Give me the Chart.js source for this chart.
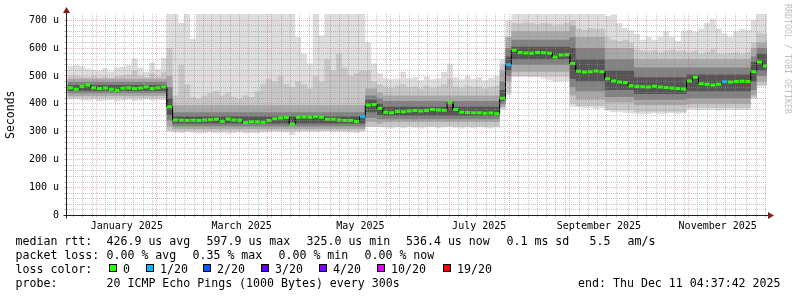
<!DOCTYPE html>
<html>
<head>
<meta charset="utf-8">
<title>SmokePing - last 360 days</title>
<script src="https://cdn.jsdelivr.net/npm/chart.js@4.4.1/dist/chart.umd.min.js"></script>
<style>
  html, body { margin: 0; padding: 0; background: #ffffff; }
  canvas { display: block; }
</style>
</head>
<body>
<canvas id="smokeChart" width="797" height="297"></canvas>
<script>
// x values are days since Jan 1 2025; one sample every 3 days starting 15 days before
const sampleStart = -15;
const sampleStep = 3;

// median rtt per sample (us)
const medianRtt = [
    458, 452, 462, 468, 458, 455, 457, 452, 449, 456, 458, 455, 457, 460, 455, 458, 460, 390,
    342, 341, 340, 341, 340, 342, 343, 345, 338, 346, 342, 341, 333, 336, 336, 334, 340, 347,
    349, 351, 328, 352, 353, 352, 355, 352, 345, 345, 342, 340, 340, 337, 355,
    396, 398, 384, 370, 368, 373, 372, 374, 376, 374, 376, 380, 378, 377, 405, 380, 370, 369,
    368, 368, 366, 367, 365, 420, 540,
    592, 584, 582, 581, 584, 583, 581, 568, 575, 576, 545,
    517, 514, 515, 518, 515, 490, 482, 478, 477, 465,
    462, 461, 460, 463, 460, 459, 457, 455, 453,
    482, 495, 472, 470, 468, 470, 479, 478, 480, 481, 480, 515, 550, 536
];

// lost pings (of 20) per sample
const lossCount = [
    0, 0, 0, 0, 0, 0, 0, 0, 0, 0, 0, 0, 0, 0, 0, 0, 0, 0, 0, 0,
    0, 0, 0, 0, 0, 0, 0, 0, 0, 0, 0, 0, 0, 0, 0, 0, 0, 0, 0, 0,
    0, 0, 0, 0, 0, 0, 0, 0, 0, 0, 1, 0, 0, 0, 0, 0, 0, 0, 0, 0,
    0, 0, 0, 0, 0, 0, 0, 0, 0, 0, 0, 0, 0, 0, 0, 1, 0, 0, 0, 0,
    0, 0, 0, 0, 0, 0, 0, 0, 0, 0, 0, 0, 0, 0, 0, 0, 0, 0, 0, 0,
    0, 0, 0, 0, 0, 0, 0, 0, 0, 0, 0, 0, 1, 0, 0, 0, 0, 0, 0, 0
];

// slowest ping per sample (us), values above the top are clipped
const pingMax = [
    536, 540, 535, 526, 522, 520, 528, 516, 530, 532, 540, 562, 530, 515, 548, 524, 565, 730,
    730, 690, 730, 632, 730, 730, 730, 730, 730, 730, 730, 730, 730, 730, 730, 730, 730, 730,
    730, 730, 730, 640, 580, 545, 730, 645, 730, 730, 730, 730, 730, 730, 730,
    620, 545, 510, 492, 488, 490, 515, 492, 495, 485, 498, 488, 492, 514, 545, 495, 488, 500,
    490, 495, 485, 492, 500, 560, 700,
    730, 730, 730, 730, 730, 730, 730, 730, 730, 730, 730,
    730, 730, 730, 730, 730, 715, 720, 690, 672, 664,
    650, 630, 640, 630, 640, 660, 640, 625, 660,
    665, 658, 670, 690, 705, 670, 652, 640, 660, 668, 665, 700, 730, 730
];

// fastest ping per sample (us)
const pingMin = [
    415, 418, 414, 412, 416, 410, 412, 414, 409, 412, 415, 410, 413, 416, 412, 414, 413, 300,
    298, 296, 300, 297, 294, 296, 298, 295, 297, 293, 296, 298, 294, 296, 295, 297, 300, 302,
    300, 298, 288, 300, 305, 302, 300, 303, 305, 300, 302, 300, 298, 296, 302,
    320, 318, 316, 314, 312, 315, 313, 316, 314, 312, 315, 317, 313, 315, 318, 314, 312, 315,
    313, 316, 314, 312, 315, 380, 430,
    505, 500, 500, 495, 497, 492, 485, 480, 480, 482, 390,
    388, 384, 386, 382, 385, 375, 370, 372, 368, 366,
    365, 362, 364, 366, 363, 365, 367, 364, 366,
    380, 378, 377, 379, 378, 376, 378, 379, 377, 378, 378, 420, 462, 465
];

// 2nd slowest ping band top per sample (us)
const band2Hi = [
    500, 502, 498, 496, 500, 495, 498, 494, 500, 502, 505, 520, 500, 495, 510, 498, 515, 600,
    430, 540, 470, 425, 420, 430, 440, 445, 430, 440, 425, 420, 430, 425, 445, 470, 490, 480,
    500, 470, 460, 480, 470, 455, 500, 480, 560, 520, 580, 530, 500, 510, 520,
    520, 480, 470, 462, 458, 465, 470, 460, 462, 455, 465, 458, 462, 470, 490, 462, 458, 465,
    460, 462, 455, 460, 465, 540, 640,
    690, 688, 692, 690, 685, 690, 688, 680, 685, 690, 700,
    670, 665, 672, 668, 670, 640, 630, 625, 630, 620,
    595, 590, 588, 592, 585, 590, 595, 588, 590,
    585, 590, 580, 585, 595, 580, 578, 582, 585, 580, 585, 620, 655, 650
];

// inner smoke bands, held constant over stretches (start day of each stretch)
const segStart = [-15, 36, 39, 138, 144, 147, 207, 210, 213, 243, 246, 261, 276, 303, 336, 339];
const band2Lo  = [420, 305, 302, 318, 318, 320, 385, 440, 498, 400, 392, 378, 372, 385, 420, 466];
const band3Lo  = [428, 320, 310, 335, 330, 335, 390, 480, 515, 430, 415, 405, 395, 400, 430, 480];
const band3Hi  = [490, 500, 395, 455, 440, 430, 520, 640, 660, 680, 640, 600, 560, 560, 600, 620];
const band4Lo  = [438, 340, 320, 350, 345, 345, 400, 500, 540, 460, 445, 425, 415, 420, 450, 500];
const band4Hi  = [478, 460, 370, 430, 420, 410, 480, 600, 630, 640, 600, 560, 530, 530, 570, 600];
const band5Lo  = [447, 360, 330, 370, 360, 357, 410, 520, 560, 490, 480, 450, 435, 445, 480, 520];
const band5Hi  = [468, 420, 355, 415, 400, 390, 450, 570, 605, 600, 560, 520, 495, 505, 550, 580];

// x axis: month starts (days since Jan 1 2025) and the labelled months
const monthStarts = [-31, 0, 31, 59, 90, 120, 151, 181, 212, 243, 273, 304, 334];
const monthLabelDays = [15.5, 74.5, 135.5, 196.5, 258, 319];
const monthLabels = ['January 2025', 'March 2025', 'May 2025', 'July 2025', 'September 2025', 'November 2025'];

// y axis tick labels, one per 100 us
const yTickLabels = ['0', '100 u', '200 u', '300 u', '400 u', '500 u', '600 u', '700 u'];

// loss colours (smokeping defaults for 20 pings)
const lossLevels = [0, 1, 2, 3, 4, 10, 19];
const lossLabels = ['0', '1/20', '2/20', '3/20', '4/20', '10/20', '19/20'];
const lossColors = ['#26ff00', '#00b8ff', '#0059ff', '#5e00ff', '#7e00ff', '#dd00ff', '#ff0000'];

// legend text
const rttStats = ['426.9 us avg', '597.9 us max', '325.0 us min', '536.4 us now', '0.1 ms sd', '5.5', 'am/s'];
const lossStats = ['0.00 % avg', '0.35 % max', '0.00 % min', '0.00 % now'];
const probeText = '20 ICMP Echo Pings (1000 Bytes) every 300s';
const endText = 'end: Thu Dec 11 04:37:42 2025';

const xMin = -15.2, xMax = 344.3;
const yMax = 722;
const segEnd = sampleStart + medianRtt.length * sampleStep;

const MONO = '"DejaVu Sans Mono", "Liberation Mono", monospace';
const GRID_MINOR = 'rgba(143,143,143,0.5)';
const GRID_MAJOR = 'rgba(222,79,79,0.42)';

// --- helpers: a value holds from its start until the next start ---
function stepPoints(starts, values) {
    const pts = [];
    values.forEach((v, i) => {
        const x0 = starts[i];
        const x1 = i + 1 < starts.length ? starts[i + 1] : segEnd;
        pts.push({ x: x0, y: v });
        pts.push({ x: x1, y: v });
    });
    return pts;
}

const sampleDays = medianRtt.map((v, i) => sampleStart + i * sampleStep);

function steppedSamples(values) {
    return stepPoints(sampleDays, values);
}

function steppedSegments(values) {
    return stepPoints(segStart, values);
}

function lossColor(n) {
    let c = lossColors[0];
    lossLevels.forEach((lvl, i) => { if (n >= lvl) c = lossColors[i]; });
    return c;
}

function band(data, fill, color, order) {
    return {
        data: data,
        fill: fill ? '+1' : false,
        backgroundColor: color,
        borderWidth: 0,
        pointRadius: 0,
        tension: 0,
        order: order,
        clip: 0
    };
}

// minor vertical grid: about every 4.8 days inside each month
const minorDays = [];
for (let m = 0; m < monthStarts.length; m++) {
    const next = m + 1 < monthStarts.length ? monthStarts[m + 1] : 365;
    for (let d = monthStarts[m] + 4.78; d < next - 2; d += 4.78) {
        if (d > xMin + 0.5 && d < xMax) minorDays.push(d);
    }
}
const monthSet = new Set(monthStarts);
const labelSet = new Set(monthLabelDays);

const smokeColors = ['#dddddd', '#c6c6c6', '#a8a8a8', '#828282', '#555555'];

const datasets = [
    band(steppedSamples(pingMax), true, smokeColors[0], 10),
    band(steppedSamples(pingMin), false, smokeColors[0], 10),
    band(steppedSamples(band2Hi), true, smokeColors[1], 9),
    band(steppedSegments(band2Lo), false, smokeColors[1], 9),
    band(steppedSegments(band3Hi), true, smokeColors[2], 8),
    band(steppedSegments(band3Lo), false, smokeColors[2], 8),
    band(steppedSegments(band4Hi), true, smokeColors[3], 7),
    band(steppedSegments(band4Lo), false, smokeColors[3], 7),
    band(steppedSegments(band5Hi), true, smokeColors[4], 6),
    band(steppedSegments(band5Lo), false, smokeColors[4], 6),
    {
        // median trace
        data: steppedSamples(medianRtt),
        borderColor: '#000000',
        borderWidth: 1,
        pointRadius: 0,
        tension: 0,
        fill: false,
        order: 1,
        clip: 0
    },
    {
        // median markers coloured by loss
        data: medianRtt.map((v, i) => ({ x: sampleDays[i] + sampleStep / 2, y: v })),
        showLine: false,
        pointStyle: 'line',
        pointRadius: 2.6,
        pointBorderWidth: 3,
        pointBorderColor: lossCount.map(lossColor),
        order: 0,
        clip: 0
    }
];

// axes arrows, legend text and watermark
const decorPlugin = {
    id: 'decor',
    afterDraw(chart) {
        const ctx = chart.ctx;
        const area = chart.chartArea;
        const y0 = chart.scales.y.getPixelForValue(0);
        const xAxis = Math.round(area.left) - 0.5;
        const yAxis = Math.round(y0) - 0.5;

        ctx.save();
        ctx.strokeStyle = '#1f1f1f';
        ctx.lineWidth = 1;
        ctx.beginPath();
        ctx.moveTo(xAxis - 3, yAxis);
        ctx.lineTo(area.right + 4, yAxis);
        ctx.moveTo(xAxis, yAxis + 3);
        ctx.lineTo(xAxis, area.top - 2);
        ctx.stroke();

        ctx.fillStyle = '#7f1f1f';
        ctx.beginPath();
        ctx.moveTo(area.right + 1, yAxis - 3.5);
        ctx.lineTo(area.right + 7, yAxis);
        ctx.lineTo(area.right + 1, yAxis + 3.5);
        ctx.closePath();
        ctx.fill();
        ctx.beginPath();
        ctx.moveTo(xAxis - 3.5, area.top - 1);
        ctx.lineTo(xAxis, area.top - 7);
        ctx.lineTo(xAxis + 3.5, area.top - 1);
        ctx.closePath();
        ctx.fill();

        // legend rows
        ctx.fillStyle = '#000000';
        ctx.font = '11.6px ' + MONO;
        ctx.textBaseline = 'alphabetic';
        ctx.textAlign = 'left';
        const rows = [245, 259, 273, 287];
        ctx.fillText('median rtt:', 15.5, rows[0]);
        const rttX = [106.5, 206.5, 306.5, 406, 506.5, 589.5, 627.5];
        rttStats.forEach((t, i) => ctx.fillText(t, rttX[i], rows[0]));

        ctx.fillText('packet loss:', 15.5, rows[1]);
        const lossX = [106.5, 192.5, 278.5, 364.5];
        lossStats.forEach((t, i) => ctx.fillText(t, lossX[i], rows[1]));

        ctx.fillText('loss color:', 15.5, rows[2]);
        const boxX = [109, 146, 203, 261, 319, 377, 443];
        lossLabels.forEach((t, i) => {
            ctx.fillStyle = lossColors[i];
            ctx.fillRect(boxX[i], 264, 8, 8);
            ctx.strokeStyle = '#000000';
            ctx.strokeRect(boxX[i] + 0.5, 264.5, 7, 7);
            ctx.fillStyle = '#000000';
            ctx.fillText(t, boxX[i] + 14, rows[2]);
        });

        ctx.fillText('probe:', 15.5, rows[3]);
        ctx.fillText(probeText, 106.5, rows[3]);
        ctx.textAlign = 'right';
        ctx.fillText(endText, 780.5, rows[3]);

        // rrdtool watermark
        ctx.translate(787.5, 4);
        ctx.rotate(Math.PI / 2);
        ctx.textAlign = 'left';
        ctx.textBaseline = 'middle';
        ctx.font = '8.3px ' + MONO;
        ctx.fillStyle = '#c0c0c0';
        ctx.fillText('RRDTOOL / TOBI OETIKER', 0, 0);
        ctx.restore();
    }
};

new Chart(document.getElementById('smokeChart'), {
    type: 'line',
    data: { datasets: datasets },
    options: {
        responsive: false,
        animation: false,
        events: [],
        layout: { padding: { top: 14, right: 30, left: 0, bottom: 0 } },
        plugins: {
            legend: { display: false },
            tooltip: { enabled: false }
        },
        scales: {
            x: {
                type: 'linear',
                min: xMin,
                max: xMax,
                afterFit(scale) { scale.height = 81.5; },
                afterBuildTicks(scale) {
                    const vals = monthStarts.filter(d => d > xMin && d < xMax)
                        .concat(minorDays, monthLabelDays);
                    scale.ticks = vals.map(v => ({ value: v }));
                },
                ticks: {
                    autoSkip: false,
                    maxRotation: 0,
                    padding: 3,
                    color: '#000000',
                    font: { family: MONO, size: 10 },
                    callback(value) {
                        const i = monthLabelDays.indexOf(value);
                        return i >= 0 ? monthLabels[i] : '';
                    }
                },
                grid: {
                    z: 1,
                    lineWidth: 1,
                    tickLength: 2,
                    color(c) {
                        const v = c.tick ? c.tick.value : null;
                        if (labelSet.has(v)) return 'rgba(0,0,0,0)';
                        return monthSet.has(v) ? GRID_MAJOR : GRID_MINOR;
                    },
                    tickColor(c) {
                        const v = c.tick ? c.tick.value : null;
                        if (labelSet.has(v)) return 'rgba(0,0,0,0)';
                        return monthSet.has(v) ? GRID_MAJOR : GRID_MINOR;
                    }
                },
                border: { display: false, dash: [1, 1] }
            },
            y: {
                type: 'linear',
                min: 0,
                max: yMax,
                afterFit(scale) { scale.width = 67; },
                ticks: {
                    stepSize: 20,
                    autoSkip: false,
                    includeBounds: false,
                    padding: 5,
                    color: '#000000',
                    font: { family: MONO, size: 10 },
                    callback(value) {
                        return value % 100 === 0 ? yTickLabels[value / 100] : '';
                    }
                },
                grid: {
                    z: 1,
                    lineWidth: 1,
                    tickLength: 3,
                    color(c) {
                        const v = c.tick ? c.tick.value : 0;
                        if (v <= 0 || v > 700) return 'rgba(0,0,0,0)';
                        return v % 100 === 0 ? GRID_MAJOR : GRID_MINOR;
                    },
                    tickColor(c) {
                        const v = c.tick ? c.tick.value : 0;
                        if (v > 700) return 'rgba(0,0,0,0)';
                        return v % 100 === 0 ? GRID_MAJOR : GRID_MINOR;
                    }
                },
                border: { display: false, dash: [1, 1] },
                title: {
                    display: true,
                    text: 'Seconds',
                    color: '#000000',
                    font: { family: MONO, size: 11.5 },
                    padding: { top: 4, bottom: 4 }
                }
            }
        }
    },
    plugins: [decorPlugin]
});
</script>
</body>
</html>
